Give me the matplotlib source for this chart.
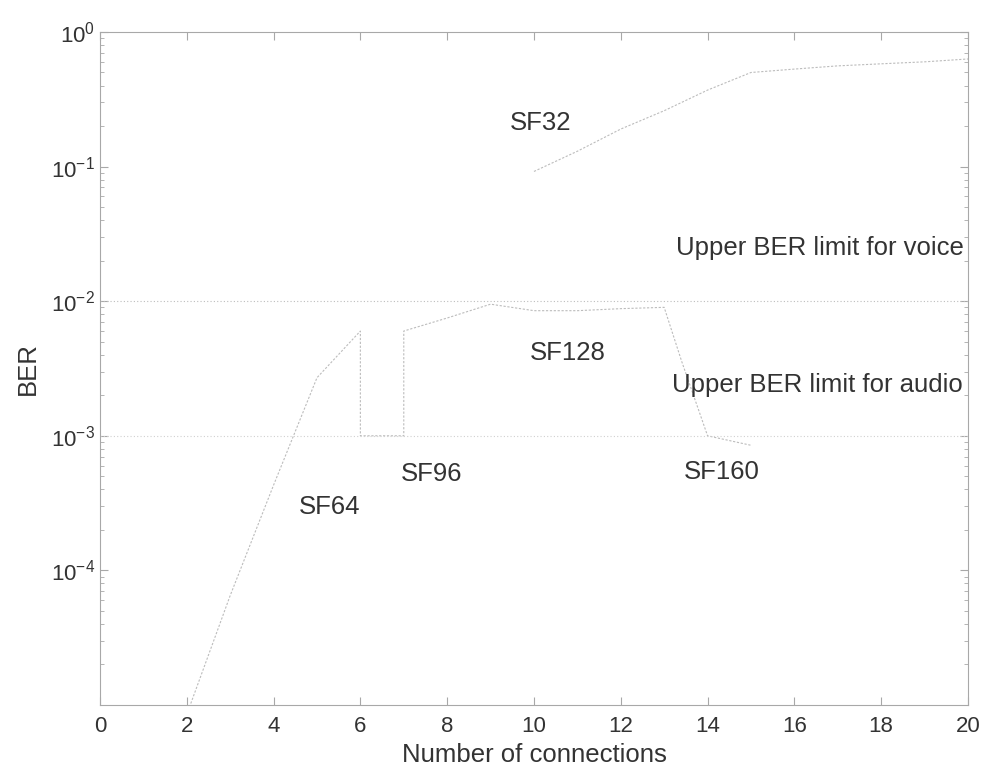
import matplotlib
matplotlib.use("Agg")
import matplotlib.pyplot as plt
from matplotlib.ticker import LogLocator, NullFormatter

plt.rcParams['font.family'] = ['Liberation Sans', 'DejaVu Sans']

# Adaptive-SF BER curve (connections vs BER)
adapt_x = [2, 3, 4, 5, 6, 6, 7, 7, 8, 9, 10, 11, 12, 13, 13.4, 14, 15]
adapt_y = [8.5e-6, 6.5e-5, 4.3e-4, 2.7e-3, 6.0e-3, 1.0e-3, 1.0e-3, 6.0e-3,
           7.5e-3, 9.5e-3, 8.5e-3, 8.5e-3, 8.8e-3, 9.0e-3, 3.6e-3, 1.0e-3, 8.5e-4]

# SF32 curve
sf32_x = [10, 11, 12, 13, 14, 15, 16, 17, 18, 19, 20]
sf32_y = [0.092, 0.13, 0.19, 0.26, 0.37, 0.50, 0.53, 0.56, 0.58, 0.60, 0.63]

# BER limits
voice_limit = 1e-2
audio_limit = 1e-3

labels = [("SF32", 10.16, 0.21), ("SF64", 5.3, 2.95e-4), ("SF96", 7.65, 5.2e-4),
          ("SF128", 10.78, 4.1e-3), ("SF160", 14.33, 5.4e-4)]

fig = plt.figure(figsize=(9.85, 7.76), dpi=100)
ax = fig.add_axes([0.1015, 0.0915, 0.8812, 0.8673])

line_col = '#bcbcbc'
ax.plot(adapt_x, adapt_y, color=line_col, lw=0.8, ls=(0, (2, 1.5)))
ax.plot(sf32_x, sf32_y, color=line_col, lw=0.8, ls=(0, (2, 1.5)))
ax.axhline(voice_limit, color='#bdbdbd', lw=0.8, ls=(0, (1, 2)))
ax.axhline(audio_limit, color='#d0d0d0', lw=0.8, ls=(0, (1, 2)))

ax.set_yscale('log')
ax.set_xlim(0, 20)
ax.set_ylim(1.0e-5, 1)
ax.set_xticks(range(0, 21, 2))
ax.set_yticks([1e-4, 1e-3, 1e-2, 1e-1, 1])
ax.yaxis.set_minor_locator(LogLocator(base=10, subs=range(2, 10), numticks=20))
ax.yaxis.set_minor_formatter(NullFormatter())

txt_col = '#333333'
fs = 18.5
for name, x, y in labels:
    ax.text(x, y, name, fontsize=fs, color=txt_col, ha='center', va='center')
ax.text(19.9, 0.0248, "Upper BER limit for voice", fontsize=fs, color=txt_col,
        ha='right', va='center')
ax.text(19.88, 2.4e-3, "Upper BER limit for audio", fontsize=fs, color=txt_col,
        ha='right', va='center')

ax.set_xlabel("Number of connections", fontsize=fs, color=txt_col, labelpad=4)
ax.set_ylabel("BER", fontsize=fs, color=txt_col, labelpad=8)

for s in ax.spines.values():
    s.set_color('#a8a8a8')
    s.set_linewidth(0.8)
ax.tick_params(which='both', direction='in', top=True, right=True,
               colors='#a8a8a8', labelcolor=txt_col, labelsize=16)
ax.tick_params(which='major', length=6)
ax.tick_params(which='minor', length=3)
ax.tick_params(axis='x', pad=8)

fig.savefig("out.png", dpi=100)
